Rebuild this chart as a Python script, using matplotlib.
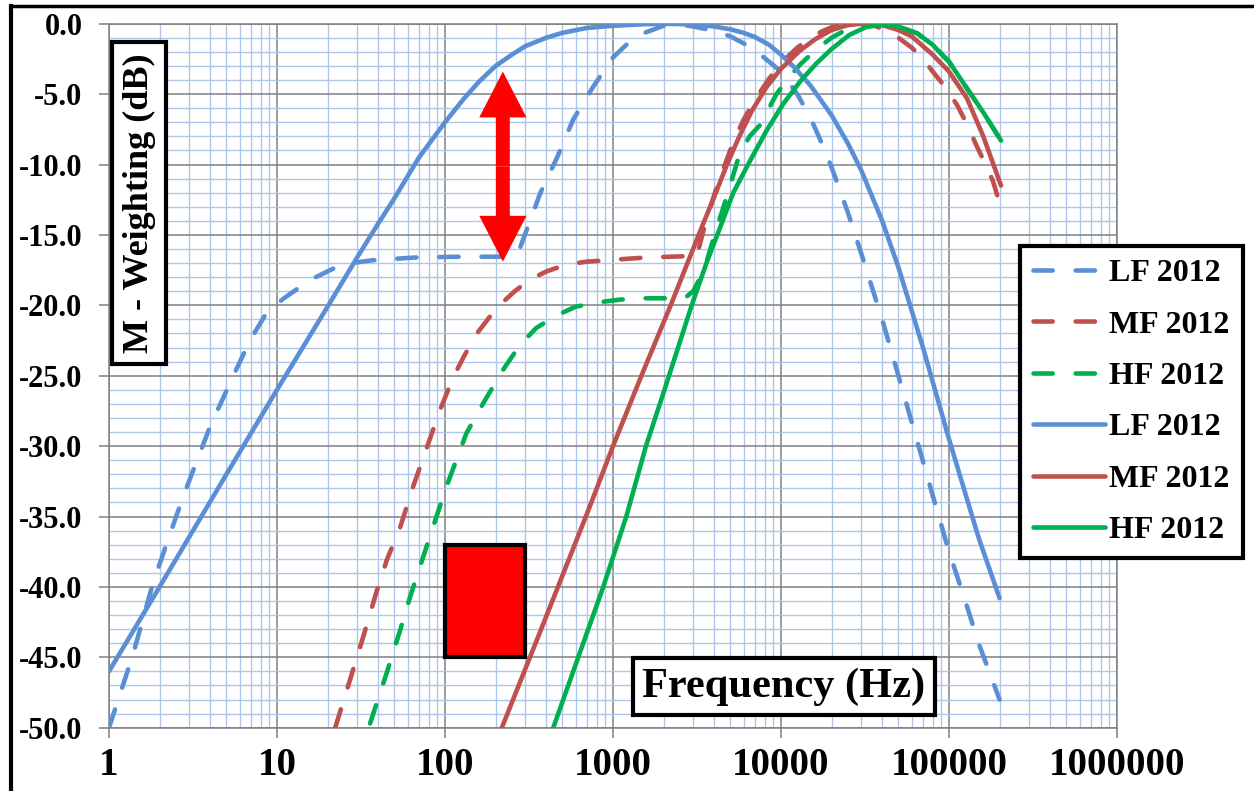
#! /usr/bin/env python3

import numpy as np
import matplotlib.pyplot as plt
from matplotlib.patches import Rectangle, FancyArrowPatch
from matplotlib.lines import Line2D
from matplotlib.ticker import LogLocator, MultipleLocator, NullFormatter

plt.rcParams['font.family'] = ['Liberation Serif', 'DejaVu Serif']
plt.rcParams['font.weight'] = 'bold'

# M-weighting curves (frequency in Hz, weighting in dB).
lf_dash_f = [1, 1.39, 1.83, 2.76, 4, 5.5, 6.9, 8.7, 11, 13.7, 17, 21.6, 28, 37,
             50, 68, 120, 230, 280, 370, 465, 580, 760, 1000, 1250, 1500, 2000,
             2500, 3000, 4000, 5000, 6000, 7200, 8500, 10000, 12500, 15000,
             17500, 20000, 25000, 30000, 40000, 50000, 60000, 80000, 100000,
             125000, 150000, 200000]
lf_dash_db = [-50, -44.8, -39.7, -33.6, -28.6, -25, -22.5, -20.5, -19.5, -18.7,
              -18.0, -17.4, -17.0, -16.8, -16.7, -16.6, -16.55, -16.55, -15.9,
              -12.0, -9.5, -6.8, -4.5, -2.4, -1.3, -0.7, -0.15, -0.05, -0.2,
              -0.5, -0.9, -1.4, -2.0, -2.7, -3.4, -5.0, -6.7, -8.5, -10.2,
              -13.4, -16.3, -21.0, -25.0, -28.3, -33.5, -37.5, -41.0, -44.0,
              -48.0]

mf_dash_f = [22.2, 27.2, 32.5, 39, 45, 54, 64.5, 78, 93, 112, 130, 155, 185, 220,
             260, 318, 400, 530, 700, 920, 1200, 1600, 2200, 2900, 3150, 3600,
             4200, 5200, 6000, 7000, 8500, 10000, 12500, 15000, 17500, 20000,
             25000, 30000, 35000, 40000, 50000, 60000, 70000, 80000, 95000,
             112000, 130000, 145000, 165000, 183000, 204000]
mf_dash_db = [-50, -46.6, -43.6, -40.4, -38.1, -35.8, -32.9, -30.1, -27.5, -25.1,
              -23.6, -22.0, -20.8, -19.8, -19.0, -18.2, -17.6, -17.1, -16.9,
              -16.8, -16.7, -16.6, -16.55, -16.5, -16.5, -13.9, -11.4, -8.4,
              -6.8, -5.4, -3.9, -2.8, -1.7, -1.0, -0.55, -0.25, -0.03, 0, -0.1,
              -0.35, -1.0, -1.7, -2.5, -3.4, -4.5, -5.8, -7.3, -8.6, -10.0,
              -11.2, -13.1]

hf_dash_f = [35.8, 45, 54, 62, 74, 89, 107, 134, 168, 221, 280, 350, 464, 600, 800,
             1100, 1390, 2000, 2700, 3000, 3460, 4050, 4750, 5650, 6500, 7500,
             9400, 11000, 13000, 16300, 20000, 25500, 32000, 40000, 50000, 65000,
             80000, 100000, 128000, 160000, 204000]
hf_dash_db = [-49.7, -46.1, -43.1, -40.7, -37.9, -35.0, -32.2, -29.1, -27.0, -24.6,
              -22.8, -21.6, -20.7, -20.1, -19.8, -19.6, -19.5, -19.5, -19.45,
              -19.0, -17.6, -14.9, -12.3, -9.3, -8.0, -7.2, -5.0, -3.9, -2.9,
              -1.8, -1.0, -0.3, -0.05, -0.05, -0.2, -0.7, -1.5, -2.7, -4.6,
              -6.3, -8.3]

lf_f = [1, 2, 5, 10, 20, 30, 40, 50, 70, 100, 130, 160, 200, 250, 300, 400, 500,
        700, 1000, 1500, 2000, 3000, 4000, 5000, 6000, 7000, 8500, 10000, 12000,
        15000, 20000, 25000, 30000, 40000, 50000, 70000, 100000, 150000, 200000]
lf_db = [-46, -40, -32, -26, -20.1, -16.6, -14.2, -12.4, -9.5, -7.0, -5.3, -4.1,
         -3.0, -2.2, -1.6, -1.0, -0.65, -0.3, -0.15, -0.04, 0, -0.05, -0.2, -0.4,
         -0.65, -0.95, -1.5, -2.2, -3.1, -4.4, -6.5, -8.5, -10.4, -14.0, -17.3,
         -23.0, -29.5, -36.5, -40.8]

mf_f = [218, 368, 500, 700, 1000, 1500, 2205, 3235, 4000, 4770, 5650, 6700, 8200,
        10000, 13000, 16000, 20000, 25000, 30000, 40000, 50000, 60000, 80000,
        100000, 128000, 160000, 204000]
mf_db = [-50, -43.2, -39.2, -34.8, -30, -24.8, -20, -15, -12.3, -10, -8.0, -6.2,
         -4.5, -3.2, -1.9, -1.1, -0.45, -0.1, 0, -0.1, -0.45, -0.9, -2.2, -3.4,
         -5.3, -8.0, -11.5]

hf_f = [441, 600, 875, 1200, 1571, 2000, 2940, 3600, 4300, 5200, 6500, 8200,
        10300, 13000, 16300, 20000, 25500, 32000, 40000, 50000, 65000, 80000,
        100000, 128000, 160000, 204000]
hf_db = [-50, -45.5, -40, -35.0, -30, -26.2, -20, -17.0, -14.6, -12.0, -9.8,
         -7.6, -5.7, -4.1, -2.8, -1.8, -0.8, -0.25, -0.05, -0.2, -0.7, -1.5,
         -2.7, -4.6, -6.3, -8.3]

labels = ["LF 2012", "MF 2012", "HF 2012"]
colors = ["#5A8FD6", "#C0504D", "#00B050"]

xticks = [1, 10, 100, 1000, 10000, 100000, 1000000]
yticks = np.arange(-50, 1, 5)

# Red box and double arrow annotations (Hz, dB).
box_f = (100, 300)
box_db = (-45, -37)
arrow_f = 221
arrow_db = (-3.4, -16.9)


fig, ax = plt.subplots(figsize=(12.54, 7.91), dpi=100)
fig.subplots_adjust(left=109 / 1254, right=1117 / 1254,
                    bottom=1 - 727.7 / 791, top=1 - 23.7 / 791)

lw = 3.3
dash = (0, (4.2, 5.0))
series = [(lf_dash_f, lf_dash_db), (mf_dash_f, mf_dash_db), (hf_dash_f, hf_dash_db)]
for (f, db), lab, col in zip(series, labels, colors):
    ax.plot(f, db, color=col, lw=lw, linestyle=dash, dash_capstyle='round',
            label=lab, zorder=3)
series = [(lf_f, lf_db), (mf_f, mf_db), (hf_f, hf_db)]
for (f, db), lab, col in zip(series, labels, colors):
    ax.plot(f, db, color=col, lw=lw, solid_capstyle='round',
            solid_joinstyle='round', label=lab, zorder=4)

ax.set_xscale('log')
ax.set_xlim(1, 1e6)
ax.set_ylim(-50, 0)

ax.set_xticks(xticks)
ax.set_xticklabels([str(v) for v in xticks])
ax.xaxis.set_minor_locator(LogLocator(base=10, subs=range(2, 10), numticks=20))
ax.xaxis.set_minor_formatter(NullFormatter())
ax.set_yticks(yticks)
ax.set_yticklabels([f"{v:.1f}" for v in yticks])
ax.yaxis.set_minor_locator(MultipleLocator(1))

ax.set_axisbelow(True)
ax.grid(which='minor', color='#B0C5EA', lw=1.0)
ax.grid(which='major', color='#808080', lw=1.1)
for s in ax.spines.values():
    s.set_color('#808080')
    s.set_linewidth(1.1)
ax.tick_params(which='major', length=7, width=1.1, color='#808080')
ax.tick_params(which='minor', length=0)
ax.tick_params(axis='y', labelsize=22, pad=12)
ax.tick_params(axis='x', labelsize=28, pad=7)

# Annotations
ax.add_patch(Rectangle((box_f[0], box_db[0]), box_f[1] - box_f[0],
                       box_db[1] - box_db[0], facecolor='#FF0000',
                       edgecolor='black', lw=3, zorder=6))
mid = (arrow_db[0] + arrow_db[1]) / 2
for tip in arrow_db:
    ax.add_patch(FancyArrowPatch((arrow_f, mid), (arrow_f, tip),
                                 arrowstyle='simple,head_length=33,head_width=34,tail_width=10',
                                 mutation_scale=1, shrinkA=0, shrinkB=0,
                                 color='#FF0000', lw=0, zorder=6))

ax.text(0.0298, 0.7453, "M - Weighting (dB)", transform=ax.transAxes,
        rotation=90, fontsize=26, ha='center', va='center', zorder=7,
        bbox=dict(boxstyle='square,pad=0.3', fc='white', ec='black', lw=3))
ax.text(0.6696, 0.0585, "Frequency (Hz)", transform=ax.transAxes,
        fontsize=30.5, ha='center', va='center', zorder=7,
        bbox=dict(boxstyle='square,pad=0.22', fc='white', ec='black', lw=3))

leg = ax.legend(loc='upper left', bbox_to_anchor=(1020 / 1254, 1 - 246 / 791),
                bbox_transform=fig.transFigure, fontsize=23, frameon=True,
                fancybox=False, framealpha=1, edgecolor='black',
                handlelength=2.25, handletextpad=0.15, labelspacing=0.69,
                borderpad=0.4, borderaxespad=0)
leg.get_frame().set_linewidth(3)
leg.set_zorder(8)

# Border of the figure (left and top edges visible)
fig.add_artist(Line2D([11 / 1254, 11 / 1254], [0, 1 - 6 / 791], color='black',
                      lw=3, transform=fig.transFigure))
fig.add_artist(Line2D([11 / 1254, 1], [1 - 6 / 791, 1 - 6 / 791], color='black',
                      lw=2.5, transform=fig.transFigure))

fig.savefig("out.png", dpi=100)
